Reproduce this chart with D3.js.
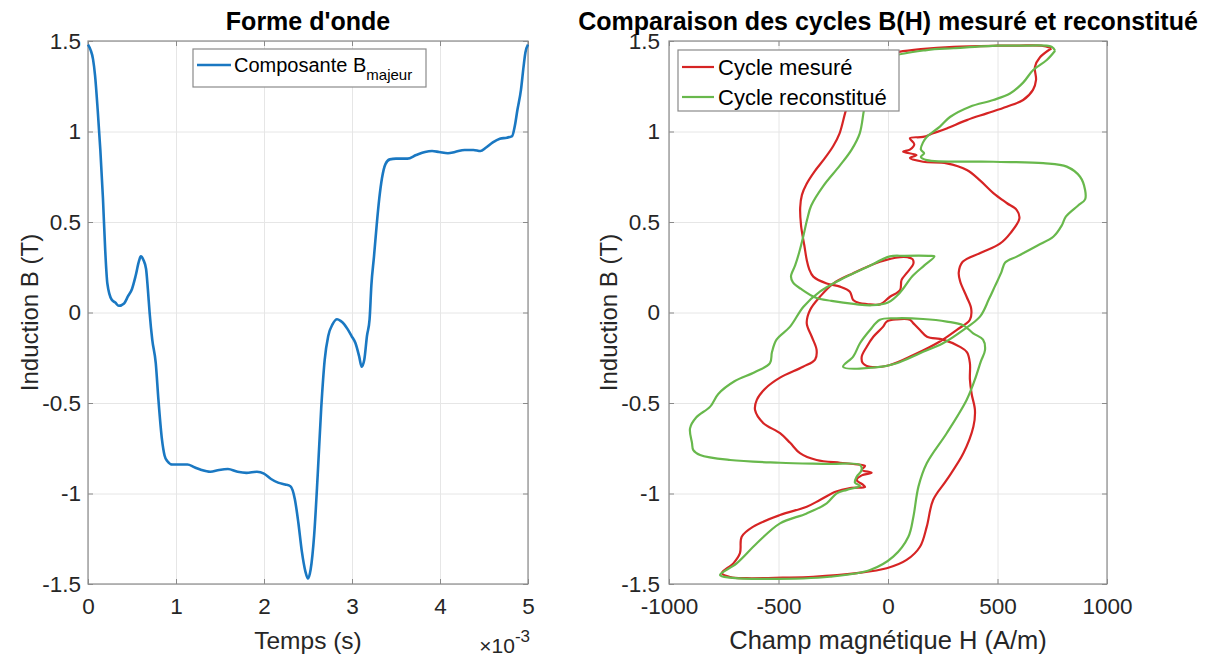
<!DOCTYPE html>
<html>
<head>
<meta charset="utf-8">
<script src="https://cdn.jsdelivr.net/npm/d3@7"></script>
<style>
  body { margin: 0; background: #fff; }
  svg { font-family: "Liberation Sans", Arial, sans-serif; }
</style>
</head>
<body>
<div id="chart"></div>
<script>
// --- left plot: waveform (time in ms, plotted with x10^-3 factor)
const tempsMs = [0, 0.03, 0.057, 0.08, 0.11, 0.14, 0.17, 0.195, 0.22, 0.27, 0.31, 0.35, 0.41, 0.455, 0.50, 0.54, 0.58, 0.60, 0.63, 0.66, 0.68, 0.70, 0.73, 0.77, 0.80, 0.84, 0.87, 0.90, 0.96, 1.02, 1.13, 1.21, 1.29, 1.39, 1.49, 1.59, 1.70, 1.80, 1.92, 2.00, 2.08, 2.16, 2.24, 2.30, 2.35, 2.39, 2.43, 2.47, 2.50, 2.53, 2.57, 2.61, 2.65, 2.69, 2.73, 2.78, 2.83, 2.87, 2.91, 2.95, 2.995, 3.04, 3.08, 3.11, 3.14, 3.17, 3.20, 3.22, 3.25, 3.28, 3.31, 3.34, 3.38, 3.43, 3.50, 3.63, 3.73, 3.83, 3.91, 3.99, 4.09, 4.17, 4.28, 4.38, 4.46, 4.52, 4.60, 4.68, 4.76, 4.82, 4.85, 4.88, 4.92, 4.95, 4.97, 5.00];
const bMajeur = [1.48, 1.45, 1.40, 1.31, 1.12, 0.90, 0.63, 0.35, 0.16, 0.07, 0.055, 0.037, 0.05, 0.09, 0.13, 0.20, 0.285, 0.31, 0.29, 0.24, 0.13, 0.0, -0.15, -0.28, -0.48, -0.70, -0.79, -0.82, -0.84, -0.84, -0.84, -0.855, -0.87, -0.88, -0.87, -0.865, -0.88, -0.886, -0.88, -0.89, -0.92, -0.94, -0.95, -0.96, -1.03, -1.16, -1.32, -1.43, -1.47, -1.42, -1.23, -0.90, -0.53, -0.26, -0.13, -0.064, -0.037, -0.046, -0.064, -0.092, -0.13, -0.17, -0.24, -0.30, -0.26, -0.13, -0.037, 0.15, 0.31, 0.48, 0.63, 0.74, 0.82, 0.846, 0.85, 0.85, 0.87, 0.887, 0.892, 0.887, 0.88, 0.887, 0.898, 0.898, 0.892, 0.91, 0.94, 0.96, 0.966, 0.975, 1.03, 1.12, 1.23, 1.36, 1.435, 1.48];

// --- right plot: B(H) loops
const hMesure = [747, 700, 600, 500, 300, 150, 50, -20, -80, -130, -170, -194, -221, -250, -290, -335, -372, -393, -401, -397, -382, -371, -360, -341, -280, -219, -174, -159, -130, -97, -37, 9, 55, 62, 85, 116, 112, 90, 55, -37, -159, -250, -311, -356, -371, -348, -326, -333, -388, -493, -560, -599, -607, -570, -493, -447, -402, -326, -219, -158, -105, -120, -75, -120, -143, -113, -105, -173, -240, -311, -371, -493, -615, -668, -676, -706, -759, -720, -645, -480, -342, -143, -6, 85, 146, 177, 206, 268, 344, 390, 397, 382, 374, 374, 361, 329, 251, 178, 146, 116, 100, 40, -6, -22, -67, -97, -120, -115, -82, 9, 116, 237, 313, 374, 380, 359, 330, 323, 341, 424, 511, 560, 600, 588, 542, 481, 420, 360, 268, 160, 100, 130, 69, 100, 120, 100, 160, 206, 268, 360, 451, 542, 617, 662, 676, 671, 694, 747];
const bMesure = [1.46, 1.474, 1.475, 1.474, 1.468, 1.455, 1.44, 1.42, 1.38, 1.30, 1.20, 1.11, 0.99, 0.92, 0.85, 0.78, 0.71, 0.65, 0.58, 0.48, 0.37, 0.29, 0.24, 0.198, 0.16, 0.143, 0.115, 0.069, 0.052, 0.047, 0.045, 0.087, 0.124, 0.18, 0.217, 0.27, 0.295, 0.305, 0.306, 0.28, 0.217, 0.16, 0.087, 0.014, -0.06, -0.134, -0.207, -0.26, -0.30, -0.36, -0.42, -0.483, -0.539, -0.61, -0.667, -0.72, -0.777, -0.815, -0.83, -0.837, -0.848, -0.87, -0.885, -0.90, -0.925, -0.953, -0.964, -0.97, -0.99, -1.036, -1.073, -1.119, -1.183, -1.239, -1.33, -1.386, -1.44, -1.462, -1.468, -1.465, -1.46, -1.44, -1.413, -1.367, -1.294, -1.183, -1.036, -0.925, -0.778, -0.63, -0.539, -0.45, -0.37, -0.28, -0.22, -0.19, -0.15, -0.134, -0.097, -0.06, -0.04, -0.038, -0.05, -0.078, -0.134, -0.189, -0.244, -0.28, -0.30, -0.29, -0.235, -0.16, -0.097, -0.04, 0.02, 0.087, 0.17, 0.22, 0.28, 0.33, 0.38, 0.44, 0.52, 0.566, 0.605, 0.66, 0.73, 0.787, 0.824, 0.833, 0.854, 0.87, 0.888, 0.90, 0.93, 0.963, 0.97, 0.99, 1.017, 1.063, 1.10, 1.137, 1.174, 1.23, 1.285, 1.357, 1.41, 1.46];
const hRecon = [763, 747, 600, 502, 300, 177, 23, -30, -70, -100, -111, -129, -166, -221, -295, -351, -369, -387, -406, -424, -443, -434, -397, -332, -258, -148, -74, 0, 55, 111, 166, 212, 185, 74, 9, -97, -219, -311, -386, -447, -509, -530, -539, -609, -701, -775, -812, -876, -904, -895, -889, -858, -721, -493, -265, -128, -120, -143, -151, -128, -188, -234, -280, -371, -493, -599, -691, -767, -720, -569, -265, -82, 24, 93, 116, 139, 177, 268, 359, 397, 424, 443, 434, 389, 343, 268, 160, 40, -37, -82, -128, -159, -205, -37, 40, 146, 251, 343, 420, 461, 489, 517, 535, 590, 683, 756, 793, 812, 867, 900, 900, 877, 816, 709, 481, 177, 150, 165, 150, 160, 177, 237, 283, 374, 481, 557, 617, 663, 725, 763];
const bRecon = [1.446, 1.468, 1.474, 1.474, 1.46, 1.45, 1.415, 1.37, 1.28, 1.18, 1.11, 0.99, 0.90, 0.81, 0.70, 0.59, 0.515, 0.42, 0.33, 0.26, 0.20, 0.166, 0.13, 0.083, 0.064, 0.046, 0.04, 0.055, 0.11, 0.20, 0.26, 0.31, 0.313, 0.313, 0.31, 0.25, 0.18, 0.115, 0.032, -0.078, -0.15, -0.22, -0.28, -0.33, -0.38, -0.45, -0.52, -0.58, -0.64, -0.72, -0.76, -0.787, -0.815, -0.83, -0.837, -0.842, -0.87, -0.907, -0.94, -0.958, -0.98, -0.999, -1.054, -1.11, -1.165, -1.275, -1.386, -1.45, -1.465, -1.472, -1.46, -1.423, -1.349, -1.239, -1.128, -0.962, -0.833, -0.667, -0.483, -0.37, -0.27, -0.207, -0.15, -0.115, -0.07, -0.05, -0.036, -0.032, -0.04, -0.097, -0.17, -0.244, -0.30, -0.30, -0.28, -0.225, -0.17, -0.097, -0.023, 0.074, 0.147, 0.22, 0.276, 0.31, 0.37, 0.42, 0.48, 0.53, 0.59, 0.625, 0.677, 0.75, 0.806, 0.825, 0.833, 0.842, 0.86, 0.88, 0.90, 0.94, 0.97, 1.027, 1.08, 1.137, 1.174, 1.21, 1.27, 1.34, 1.395, 1.446];

// ticks
const tTicks = [0, 1, 2, 3, 4, 5];
const hTicks = [-1000, -500, 0, 500, 1000];
const bTicks = [-1.5, -1, -0.5, 0, 0.5, 1, 1.5];

const W = 1215, H = 658;
const plotTop = 41, plotBottom = 584;
const axColor = "#262626", frameColor = "#8a8a8a", gridColor = "#e6e6e6";

const svg = d3.select("#chart").append("svg")
  .attr("width", W).attr("height", H);

function drawAxes(left, right, x, y, xTicks, cfg) {
  const g = svg.append("g");
  const w = right - left, h = plotBottom - plotTop;

  // grid
  g.append("g").attr("transform", `translate(0,${plotBottom})`)
    .call(d3.axisBottom(x).tickValues(xTicks).tickSize(-h).tickFormat(""))
    .call(s => s.select(".domain").remove())
    .call(s => s.selectAll("line").attr("stroke", gridColor));
  g.append("g").attr("transform", `translate(${left},0)`)
    .call(d3.axisLeft(y).tickValues(bTicks).tickSize(-w).tickFormat(""))
    .call(s => s.select(".domain").remove())
    .call(s => s.selectAll("line").attr("stroke", gridColor));

  // frame
  g.append("rect").attr("x", left).attr("y", plotTop)
    .attr("width", w).attr("height", h)
    .attr("fill", "none").attr("stroke", frameColor).attr("stroke-width", 1.2);

  // inward ticks on all 4 sides, labels bottom/left (hyphen minus like MATLAB)
  const styleAxis = s => {
    s.select(".domain").remove();
    s.selectAll("line").attr("stroke", frameColor);
    s.selectAll("text").attr("fill", axColor).style("font-size", "22.5px")
      .attr("font-family", "Liberation Sans, Arial, sans-serif");
  };
  g.append("g").attr("transform", `translate(0,${plotBottom})`)
    .call(d3.axisBottom(x).tickValues(xTicks).tickSize(-5).tickPadding(14).tickFormat(d => String(d)))
    .call(styleAxis);
  g.append("g").attr("transform", `translate(0,${plotTop})`)
    .call(d3.axisTop(x).tickValues(xTicks).tickSize(-5).tickFormat(""))
    .call(styleAxis);
  g.append("g").attr("transform", `translate(${left},0)`)
    .call(d3.axisLeft(y).tickValues(bTicks).tickSize(-5).tickPadding(cfg.yPad).tickFormat(d => String(d)))
    .call(styleAxis);
  g.append("g").attr("transform", `translate(${right},0)`)
    .call(d3.axisRight(y).tickValues(bTicks).tickSize(-5).tickFormat(""))
    .call(styleAxis);

  // title
  svg.append("text").attr("x", (left + right) / 2).attr("y", 30)
    .attr("text-anchor", "middle").attr("font-weight", "bold")
    .attr("font-size", 25).attr("fill", "#000").text(cfg.title);
  // axis labels
  svg.append("text").attr("x", (left + right) / 2).attr("y", 649)
    .attr("text-anchor", "middle").attr("font-size", cfg.xLabelSize).attr("fill", axColor)
    .text(cfg.xLabel);
  svg.append("text")
    .attr("transform", `translate(${cfg.yLabelX},${(plotTop + plotBottom) / 2}) rotate(-90)`)
    .attr("text-anchor", "middle").attr("font-size", 24).attr("fill", axColor)
    .text("Induction B (T)");
  return g;
}

// ---------- left: Forme d'onde
const x1 = d3.scaleLinear().domain([0, 5]).range([88, 528]);
const y1 = d3.scaleLinear().domain([-1.5, 1.5]).range([plotBottom, plotTop]);
drawAxes(88, 528, x1, y1, tTicks, {
  title: "Forme d'onde", xLabel: "Temps (s)", xLabelSize: 24.5, yLabelX: 38, yPad: 7
});

const wave = tempsMs.map((t, i) => [t, bMajeur[i]]);
svg.append("path").datum(wave)
  .attr("fill", "none").attr("stroke", "#1a78c2").attr("stroke-width", 2.6)
  .attr("stroke-linejoin", "round")
  .attr("d", d3.line().x(d => x1(d[0])).y(d => y1(d[1])).curve(d3.curveMonotoneX));

// x10^-3 multiplier
const mult = svg.append("text").attr("x", 530).attr("y", 653)
  .attr("text-anchor", "end").attr("fill", axColor).attr("font-size", 21);
mult.append("tspan").text("\u00d710");
mult.append("tspan").attr("dy", -11).attr("font-size", 17).text("-3");

// legend left
const lg1 = svg.append("g");
lg1.append("rect").attr("x", 193).attr("y", 49).attr("width", 233).attr("height", 38)
  .attr("fill", "#fff").attr("stroke", "#8a8a8a").attr("stroke-width", 1.2);
lg1.append("line").attr("x1", 197).attr("x2", 231).attr("y1", 65).attr("y2", 65)
  .attr("stroke", "#1a78c2").attr("stroke-width", 2.6);
const lt = lg1.append("text").attr("x", 234).attr("y", 72).attr("font-size", 20).attr("fill", "#000");
lt.append("tspan").text("Composante B");
lt.append("tspan").attr("dy", 8).attr("font-size", 15).text("majeur");

// ---------- right: cycles B(H)
const x2 = d3.scaleLinear().domain([-1000, 1000]).range([669, 1107]);
const y2 = d3.scaleLinear().domain([-1.5, 1.5]).range([plotBottom, plotTop]);
drawAxes(669, 1107, x2, y2, hTicks, {
  title: "Comparaison des cycles B(H) mesuré et reconstitué",
  xLabel: "Champ magnétique H (A/m)", xLabelSize: 25.5, yLabelX: 617, yPad: 9
});

const loopLine = d3.line().x(d => x2(d[0])).y(d => y2(d[1])).curve(d3.curveCatmullRom.alpha(0.5));
const series = [
  { name: "Cycle mesuré", h: hMesure, b: bMesure, color: "#d62424" },
  { name: "Cycle reconstitué", h: hRecon, b: bRecon, color: "#68b84c" }
];
series.forEach(s => {
  svg.append("path").datum(s.h.map((v, i) => [v, s.b[i]]))
    .attr("fill", "none").attr("stroke", s.color).attr("stroke-width", 2.2)
    .attr("stroke-linejoin", "round").attr("d", loopLine);
});

// legend right
const lg2 = svg.append("g");
lg2.append("rect").attr("x", 678).attr("y", 50).attr("width", 221).attr("height", 61)
  .attr("fill", "#fff").attr("stroke", "#8a8a8a").attr("stroke-width", 1.2);
series.forEach((s, i) => {
  const yy = 67 + i * 30;
  lg2.append("line").attr("x1", 682).attr("x2", 714).attr("y1", yy).attr("y2", yy)
    .attr("stroke", s.color).attr("stroke-width", 2.2);
  lg2.append("text").attr("x", 718).attr("y", yy + 8).attr("font-size", 22)
    .attr("fill", "#000").text(s.name);
});
</script>
</body>
</html>
